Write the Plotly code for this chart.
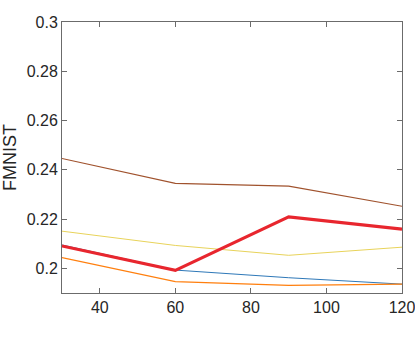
import plotly.graph_objects as go

# data
x_vals = [30, 60, 90, 120]
brown = [0.2446, 0.2345, 0.2334, 0.2252]
yellow = [0.2151, 0.2093, 0.2053, 0.2086]
blue = [0.2095, 0.1993, 0.1962, 0.1936]
orange = [0.2044, 0.1946, 0.1931, 0.1936]
red = [0.2091, 0.1992, 0.2209, 0.2159]

y_ticks = [0.2, 0.22, 0.24, 0.26, 0.28, 0.3]
y_labels = ["0.2", "0.22", "0.24", "0.26", "0.28", "0.3"]
x_ticks = [40, 60, 80, 100, 120]

FONT = "Liberation Sans, Arial, Helvetica, sans-serif"

fig = go.Figure()
series = [
    (brown, "#A0522D", 1.2),
    (yellow, "#E8D35A", 1.0),
    (blue, "#2E78B8", 1.0),
    (orange, "#FF7F0E", 1.2),
    (red, "#E8262E", 3.2),
]
for ys, color, width in series:
    fig.add_trace(go.Scatter(
        x=x_vals, y=ys, mode="lines",
        line=dict(color=color, width=width),
        showlegend=False, hoverinfo="skip",
    ))

axis_common = dict(
    showgrid=False, zeroline=False, automargin=False,
    showline=True, linecolor="#6b6b6b", linewidth=1,
    mirror="ticks", ticks="inside", ticklen=5, tickcolor="#6b6b6b",
    tickfont=dict(family=FONT, size=16, color="#262626"),
    ticklabeloverflow="allow",
)

fig.update_layout(
    width=415, height=340,
    margin=dict(l=62, r=13, t=22, b=47),
    paper_bgcolor="white", plot_bgcolor="white",
    font=dict(family=FONT, color="#262626"),
    xaxis=dict(range=[30, 120], tickvals=x_ticks, **axis_common),
    yaxis=dict(range=[0.19, 0.3], tickvals=y_ticks, ticktext=y_labels,
               title=dict(text="FMNIST", standoff=16,
                          font=dict(family=FONT, size=18, color="#262626")),
               **axis_common),
)

# drop the default 8px body margin so the figure fills the window
fig.write_html(
    "out.html",
    config={"displayModeBar": False},
    post_script="document.body.style.margin='0';",
)
